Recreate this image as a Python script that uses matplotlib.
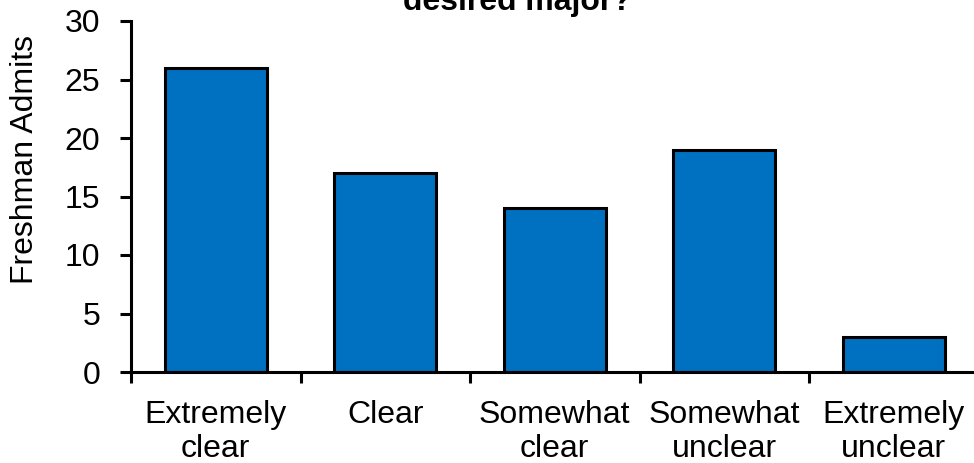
import matplotlib
matplotlib.use('Agg')
import matplotlib.pyplot as plt
import numpy as np

# data
categories = ['Extremely\nclear', 'Clear', 'Somewhat\nclear', 'Somewhat\nunclear', 'Extremely\nunclear']
admits = [26, 17, 14, 19, 3]
y_ticks = [0, 5, 10, 15, 20, 25, 30]
title_text = 'desired major?'
y_label = 'Freshman Admits'

plt.rcParams['font.family'] = ['Liberation Sans', 'DejaVu Sans']
FS = 23
W, H = 974, 463

fig = plt.figure(figsize=(W / 100, H / 100), dpi=100)
# plot area in pixel terms: x from 131 to ~978, y=0 at 372, y=30 at 21
ax = fig.add_axes([131 / W, 1 - 372 / H, (978.5 - 131) / W, (372 - 21) / H])

x = np.arange(len(categories))
ax.bar(x, admits, width=0.6, color='#0070C0', edgecolor='black', linewidth=2.2, zorder=3)

ax.set_xlim(-0.5, len(categories) - 0.5)
ax.set_ylim(0, 30)
ax.set_yticks(y_ticks)
ax.set_yticklabels([str(v) for v in y_ticks], fontsize=FS)
ax.set_xticks(x)
ax.set_xticklabels(categories, fontsize=FS, linespacing=1.17)
ax.set_xticks(np.arange(-0.5, len(categories), 1.0), minor=True)

ax.tick_params(axis='x', which='major', length=0, pad=20)
ax.tick_params(axis='x', which='minor', length=8, width=2.2, direction='out')
ax.tick_params(axis='y', which='major', length=8, width=2.2, direction='out', pad=14)

for side in ['top', 'right']:
    ax.spines[side].set_visible(False)
for side in ['left', 'bottom']:
    ax.spines[side].set_linewidth(2.2)
    ax.spines[side].set_zorder(4)

fig.text(25 / W, 1 - 160 / H, y_label, rotation=90, ha='center', va='center', fontsize=FS)
fig.text(517 / W, 1 - 10 / H, title_text, ha='center', va='baseline', fontsize=FS, fontweight='bold')

fig.savefig('out.png', dpi=100)
